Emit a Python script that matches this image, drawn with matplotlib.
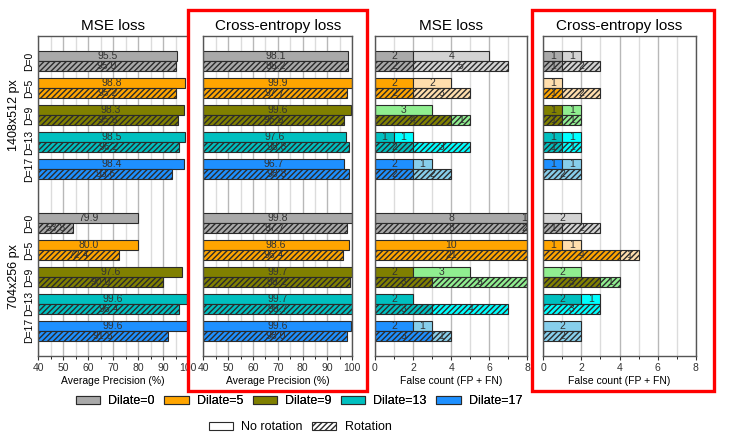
import matplotlib
matplotlib.use("Agg")
import matplotlib.pyplot as plt
from matplotlib.patches import Patch, Rectangle
import numpy as np

plt.rcParams['font.family'] = ['Liberation Sans', 'DejaVu Sans']
plt.rcParams['hatch.linewidth'] = 1.0

dilates = ["D=0", "D=5", "D=9", "D=13", "D=17"]
legend_labels = ["Dilate=0", "Dilate=5", "Dilate=9", "Dilate=13", "Dilate=17"]
groups = ["1408x512 px", "704x256 px"]
dark_colors = ["#a9a9a9", "#ffa500", "#808000", "#00bfbf", "#1e90ff"]
light_colors = ["#d3d3d3", "#ffdead", "#90ee90", "#00ffff", "#87ceeb"]

# Average precision (%)
mse_ap_hi_norot = [95.5, 98.8, 98.3, 98.5, 98.4]
mse_ap_hi_rot = [95.0, 95.2, 95.8, 96.2, 93.6]
mse_ap_lo_norot = [79.9, 80.0, 97.6, 99.6, 99.6]
mse_ap_lo_rot = [53.8, 72.4, 90.0, 96.4, 91.8]
ce_ap_hi_norot = [98.1, 99.9, 99.6, 97.6, 96.7]
ce_ap_hi_rot = [98.2, 97.7, 96.8, 98.8, 98.8]
ce_ap_lo_norot = [99.8, 98.6, 99.7, 99.7, 99.6]
ce_ap_lo_rot = [97.7, 96.4, 99.2, 99.7, 98.0]

# False counts: first segment (dark colour), second segment (light colour)
mse_fc_hi_norot_a = [2, 2, 0, 1, 2]
mse_fc_hi_norot_b = [4, 2, 3, 1, 1]
mse_fc_hi_rot_a = [2, 2, 4, 2, 2]
mse_fc_hi_rot_b = [5, 3, 1, 3, 2]
mse_fc_lo_norot_a = [8, 10, 2, 2, 2]
mse_fc_lo_norot_b = [15, 0, 3, 0, 1]
mse_fc_lo_rot_a = [8, 21, 3, 3, 3]
mse_fc_lo_rot_b = [25, 0, 5, 4, 1]
ce_fc_hi_norot_a = [1, 0, 1, 1, 1]
ce_fc_hi_norot_b = [1, 1, 1, 1, 1]
ce_fc_hi_rot_a = [1, 1, 1, 1, 0]
ce_fc_hi_rot_b = [2, 2, 1, 1, 2]
ce_fc_lo_norot_a = [0, 1, 0, 2, 0]
ce_fc_lo_norot_b = [2, 1, 2, 1, 2]
ce_fc_lo_rot_a = [1, 4, 3, 0, 0]
ce_fc_lo_rot_b = [2, 1, 1, 3, 2]

W, H = 729, 445
fig = plt.figure(figsize=(W / 100, H / 100), dpi=100)

def fx(px):
    return px / W

def fy(py):
    return 1 - py / H

top_px, bot_px = 36, 356
cols_px = [(38.3, 188.3), (203.3, 352.3), (375, 527.3), (543.3, 695.7)]
axes = []
for (l, r) in cols_px:
    ax = fig.add_axes([fx(l), fy(bot_px), (r - l) / W, (bot_px - top_px) / H])
    axes.append(ax)

group_offset = [0, 6]
bh = 0.36
off = 0.19
edge = "#2b2b2b"
txtc = "#333333"
hatch_pat = '//////'
ylim = (10.93, -0.93)


def style_axis(ax, xlim, major, minor, xlabel, title):
    ax.set_xlim(*xlim)
    ax.set_ylim(*ylim)
    ax.set_xticks(np.arange(xlim[0], xlim[1] + 0.01, major))
    ax.set_xticks(np.arange(xlim[0], xlim[1] + 0.01, minor), minor=True)
    ax.grid(True, axis='x', which='major', color='#b8b8b8', lw=1.0, zorder=0)
    ax.grid(True, axis='x', which='minor', color='#dcdcdc', lw=1.0, zorder=0)
    ax.set_axisbelow(True)
    ax.tick_params(axis='x', labelsize=7.5, length=3, width=0.8, colors='#333333', pad=2)
    ax.tick_params(axis='x', which='minor', length=2, width=0.6)
    for s in ax.spines.values():
        s.set_color('#555555')
        s.set_linewidth(1.0)
    ax.set_xlabel(xlabel, fontsize=7.5, labelpad=2)
    ax.set_title(title, fontsize=11, pad=4)


def ap_panel(ax, data):
    for g, (norot, rot) in enumerate(data):
        for i in range(5):
            y = group_offset[g] + i
            for vals, dy, hatch in ((norot, -off, None), (rot, off, hatch_pat)):
                v = vals[i]
                ax.barh(y + dy, v - 40, left=40, height=bh, color=dark_colors[i],
                        edgecolor=edge, linewidth=0.8, hatch=hatch, zorder=2)
                ax.text((40 + min(v, 100)) / 2, y + dy, f"{v:.1f}", ha='center',
                        va='center', fontsize=7.5, color=txtc, zorder=3)


def fc_panel(ax, data, xmax=8):
    for g, ((na, nb), (ra, rb)) in enumerate(data):
        for i in range(5):
            y = group_offset[g] + i
            for a, b, dy, hatch in ((na, nb, -off, None), (ra, rb, off, hatch_pat)):
                segs = [(0, a[i], dark_colors[i]), (a[i], b[i], light_colors[i])]
                for left, w, c in segs:
                    if w <= 0:
                        continue
                    ax.barh(y + dy, w, left=left, height=bh, color=c,
                            edgecolor=edge, linewidth=0.8, hatch=hatch, zorder=2)
                    lo, hi = min(left, xmax), min(left + w, xmax)
                    ax.text((lo + hi) / 2, y + dy, f"{w}", ha='center', va='center',
                            fontsize=7.5, color=txtc, zorder=3, clip_on=True)


ap_panel(axes[0], [(mse_ap_hi_norot, mse_ap_hi_rot), (mse_ap_lo_norot, mse_ap_lo_rot)])
ap_panel(axes[1], [(ce_ap_hi_norot, ce_ap_hi_rot), (ce_ap_lo_norot, ce_ap_lo_rot)])
fc_panel(axes[2], [((mse_fc_hi_norot_a, mse_fc_hi_norot_b), (mse_fc_hi_rot_a, mse_fc_hi_rot_b)),
                   ((mse_fc_lo_norot_a, mse_fc_lo_norot_b), (mse_fc_lo_rot_a, mse_fc_lo_rot_b))])
fc_panel(axes[3], [((ce_fc_hi_norot_a, ce_fc_hi_norot_b), (ce_fc_hi_rot_a, ce_fc_hi_rot_b)),
                   ((ce_fc_lo_norot_a, ce_fc_lo_norot_b), (ce_fc_lo_rot_a, ce_fc_lo_rot_b))])

style_axis(axes[0], (40, 100), 10, 5, "Average Precision (%)", "MSE loss")
style_axis(axes[1], (40, 100), 10, 5, "Average Precision (%)", "Cross-entropy loss")
style_axis(axes[2], (0, 8), 2, 1, "False count (FP + FN)", "MSE loss")
style_axis(axes[3], (0, 8), 2, 1, "False count (FP + FN)", "Cross-entropy loss")

yt = [group_offset[g] + i for g in range(2) for i in range(5)]
ytl = dilates * 2
axes[0].set_yticks(yt)
axes[0].set_yticklabels(ytl, rotation=90, va='center', fontsize=7.5)
axes[0].tick_params(axis='y', length=0, pad=3)
for ax in axes[1:]:
    ax.set_yticks([])

for g, name in enumerate(groups):
    yc = group_offset[g] + 2
    axes[0].annotate(name, xy=(0, yc), xycoords=('figure fraction', 'data'),
                     xytext=(fx(14), 0), textcoords=('figure fraction', 'offset points'),
                     rotation=90, ha='center', va='center', fontsize=9)

# Red highlight boxes
for (x0, x1) in ((188.3, 367.3), (532.3, 714.3)):
    fig.add_artist(Rectangle((fx(x0), fy(391)), (x1 - x0) / W, (391 - 10) / H,
                             transform=fig.transFigure, fill=False,
                             edgecolor='#ff0000', linewidth=2.4, zorder=10))

h1 = [Patch(facecolor=c, edgecolor=edge, linewidth=0.8) for c in dark_colors]
leg1 = fig.legend(h1, legend_labels, loc='center', bbox_to_anchor=(fx(299), fy(401.5)),
                  ncol=5, frameon=False, fontsize=9, handlelength=1.95, handleheight=0.6,
                  columnspacing=0.75, handletextpad=0.65, borderpad=0)
h2 = [Patch(facecolor='white', edgecolor=edge, linewidth=0.8),
      Patch(facecolor='white', edgecolor=edge, linewidth=0.8, hatch=hatch_pat)]
leg2 = fig.legend(h2, ["No rotation", "Rotation"], loc='center',
                  bbox_to_anchor=(fx(300), fy(427.5)), ncol=2, frameon=False, fontsize=9,
                  handlelength=1.95, handleheight=0.6, columnspacing=0.75,
                  handletextpad=0.65, borderpad=0)
fig.add_artist(leg1)

fig.savefig("out.png", dpi=100)
